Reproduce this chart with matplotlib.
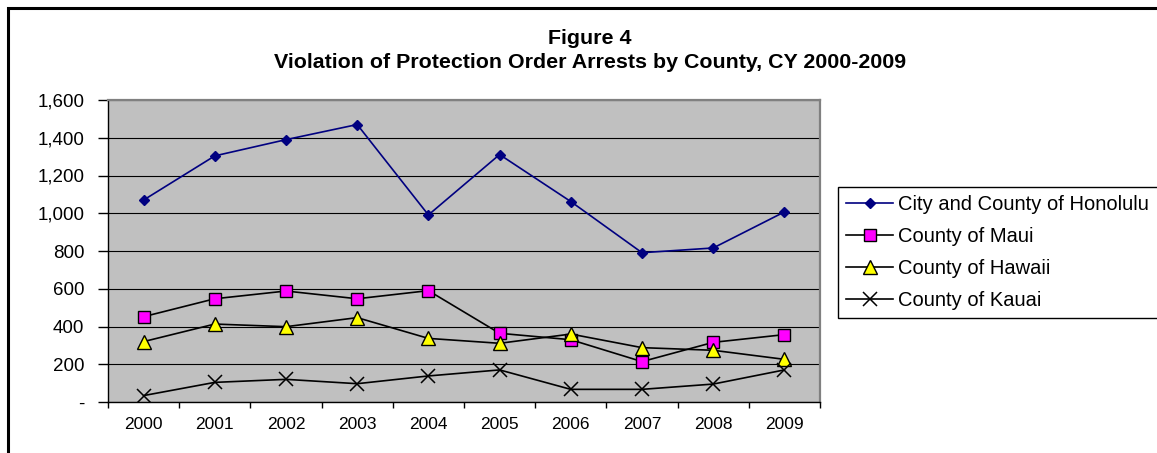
import matplotlib
matplotlib.use("Agg")
import matplotlib.pyplot as plt
from matplotlib.patches import Rectangle
import numpy as np

plt.rcParams['font.family'] = ['Liberation Sans', 'DejaVu Sans']

years = ['2000', '2001', '2002', '2003', '2004', '2005', '2006', '2007', '2008', '2009']
honolulu = [1070, 1304, 1390, 1470, 991, 1311, 1062, 791, 816, 1007]
maui = [452, 547, 588, 547, 590, 364, 330, 214, 316, 357]
hawaii = [320, 413, 399, 447, 337, 311, 360, 288, 274, 226]
kauai = [34, 104, 120, 97, 138, 170, 67, 67, 95, 170]

y_ticks = [0, 200, 400, 600, 800, 1000, 1200, 1400, 1600]
y_tick_labels = ['-', '200', '400', '600', '800', '1,000', '1,200', '1,400', '1,600']

W, H = 1157, 453
fig = plt.figure(figsize=(W / 100, H / 100), dpi=100)

# outer chart frame (runs off the right and bottom edges)
fig.patches.append(Rectangle((8 / W, -0.05), 1.2, 1 - 8 / H + 0.05,
                             transform=fig.transFigure, fill=False,
                             edgecolor='black', linewidth=2.2))

ax = fig.add_axes([108 / W, 51 / H, (820 - 108) / W, (402 - 100) / H])
ax.set_facecolor('#c0c0c0')

x = np.arange(len(years))
ax.plot(x, honolulu, color='#000080', lw=1.2, marker='D', ms=5.5,
        mfc='#000080', mec='#000080', label='City and County of Honolulu', zorder=3)
ax.plot(x, maui, color='black', lw=1.2, marker='s', ms=8,
        mfc='#ff00ff', mec='black', mew=1, label='County of Maui', zorder=3)
ax.plot(x, hawaii, color='black', lw=1.2, marker='^', ms=9.5,
        mfc='#ffff00', mec='black', mew=1, label='County of Hawaii', zorder=3)
ax.plot(x, kauai, color='black', lw=1.2, marker='x', ms=10, mew=1.1,
        label='County of Kauai', zorder=3)

ax.set_xlim(-0.5, len(years) - 0.5)
ax.set_ylim(0, 1600)
ax.set_yticks(y_ticks)
ax.set_yticklabels(y_tick_labels)
ax.yaxis.grid(True, color='black', lw=0.8)
ax.set_axisbelow(True)

# category boundaries get the ticks, labels sit between them
ax.set_xticks(np.arange(len(years) + 1) - 0.5)
ax.set_xticklabels([])
ax.set_xticks(x, minor=True)
ax.set_xticklabels(years, minor=True)
ax.tick_params(axis='x', which='major', length=4.5, width=1, direction='out')
ax.tick_params(axis='x', which='minor', length=0, pad=11, labelsize=12.5)
ax.tick_params(axis='y', length=7, width=1, direction='out', pad=10, labelsize=13.5)

for side in ('top', 'right'):
    ax.spines[side].set_color('#808080')
    ax.spines[side].set_linewidth(1.6)
for side in ('left', 'bottom'):
    ax.spines[side].set_color('black')
    ax.spines[side].set_linewidth(1)

fig.text(590 / W, 1 - 38 / H, 'Figure 4', ha='center', va='center',
         fontsize=15.4, fontweight='bold')
fig.text(590 / W, 1 - 62 / H,
         'Violation of Protection Order Arrests by County, CY 2000-2009',
         ha='center', va='center', fontsize=15.4, fontweight='bold')

leg = fig.legend(loc='upper left',
                 bbox_to_anchor=(838 / W, 1 - 314 / H, (1175 - 838) / W, (314 - 187) / H),
                 mode='expand', fancybox=False, edgecolor='black', framealpha=1,
                 fontsize=14.5, handlelength=2.35, handletextpad=0.25,
                 borderpad=0.4, labelspacing=0.65, borderaxespad=0)
leg.get_frame().set_linewidth(1)

fig.savefig('out.png', dpi=100)
